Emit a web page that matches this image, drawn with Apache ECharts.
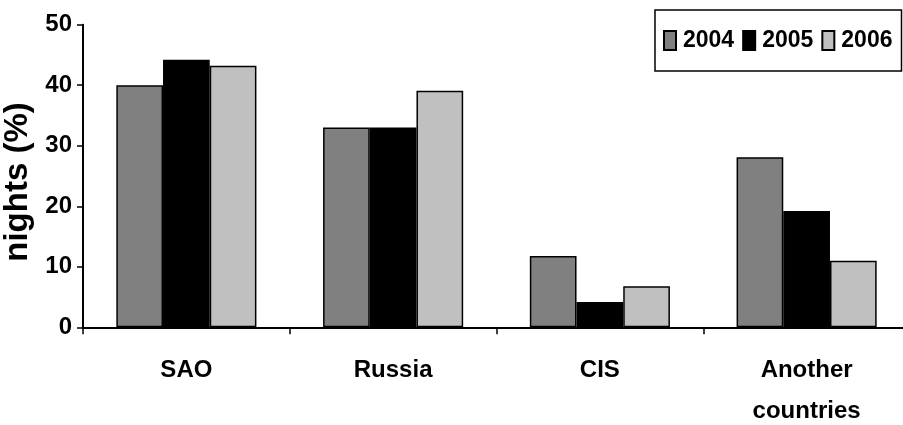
<!DOCTYPE html>
<html>
<head>
<meta charset="utf-8">
<script src="https://cdn.jsdelivr.net/npm/echarts@6/dist/echarts.min.js"></script>
<style>
  html, body { margin: 0; padding: 0; background: #fff; }
  #chart { width: 903px; height: 425px; }
</style>
</head>
<body>
<div id="chart"></div>
<script>
// Share of nights by visitor origin, per year
const categories = ['SAO', 'Russia', 'CIS', 'Another\ncountries'];
const years = ['2004', '2005', '2006'];
const values2004 = [40, 33, 11.8, 28.1];
const values2005 = [44.2, 33, 4.2, 19.2];
const values2006 = [43.2, 39.1, 6.8, 11.0];
const yTicks = { min: 0, max: 50, interval: 10 };

const FONT = "'Liberation Sans', Arial, sans-serif";
const colors = ['#808080', '#000000', '#c0c0c0'];
const seriesValues = [values2004, values2005, values2006];

const chart = echarts.init(document.getElementById('chart'), null, { renderer: 'canvas' });

chart.setOption({
  animation: false,
  backgroundColor: '#ffffff',
  grid: {
    left: 83, top: 24.7, width: 827, bottom: 97.7,
    containLabel: false, outerBoundsMode: 'none'
  },
  legend: {
    left: 655, top: 10,
    orient: 'horizontal',
    icon: 'rect',
    padding: [19, 9, 19, 8],
    borderColor: '#000', borderWidth: 1.5,
    itemWidth: 12, itemHeight: 19, itemGap: 8,
    textStyle: {
      fontFamily: FONT, fontWeight: 'bold', fontSize: 23, color: '#000',
      padding: [0, 0, 0, 2]
    },
    data: years
  },
  xAxis: {
    type: 'category',
    data: categories,
    axisLine: { lineStyle: { color: '#000', width: 2 } },
    axisTick: { show: true, length: 7, lineStyle: { color: '#000', width: 1.5 } },
    axisLabel: {
      fontFamily: FONT, fontWeight: 'bold', fontSize: 24, color: '#000',
      margin: 23, lineHeight: 41
    }
  },
  yAxis: {
    type: 'value',
    min: yTicks.min, max: yTicks.max, interval: yTicks.interval,
    name: 'nights (%)',
    nameLocation: 'middle',
    nameGap: 42,
    nameTextStyle: {
      fontFamily: FONT, fontWeight: 'bold', fontSize: 33, color: '#000',
      padding: [0, 12, 0, 0]
    },
    axisLine: { show: true, lineStyle: { color: '#000', width: 2 } },
    axisTick: { show: true, length: 6, lineStyle: { color: '#000', width: 1.5 } },
    splitLine: { show: false },
    axisLabel: { fontFamily: FONT, fontWeight: 'bold', fontSize: 24, color: '#000', margin: 11 }
  },
  series: years.map((y, i) => ({
    name: y,
    type: 'bar',
    data: seriesValues[i],
    barWidth: 46.7,
    barGap: '0%',
    itemStyle: { color: colors[i], borderColor: '#000', borderWidth: 1.5 }
  }))
});
</script>
</body>
</html>
